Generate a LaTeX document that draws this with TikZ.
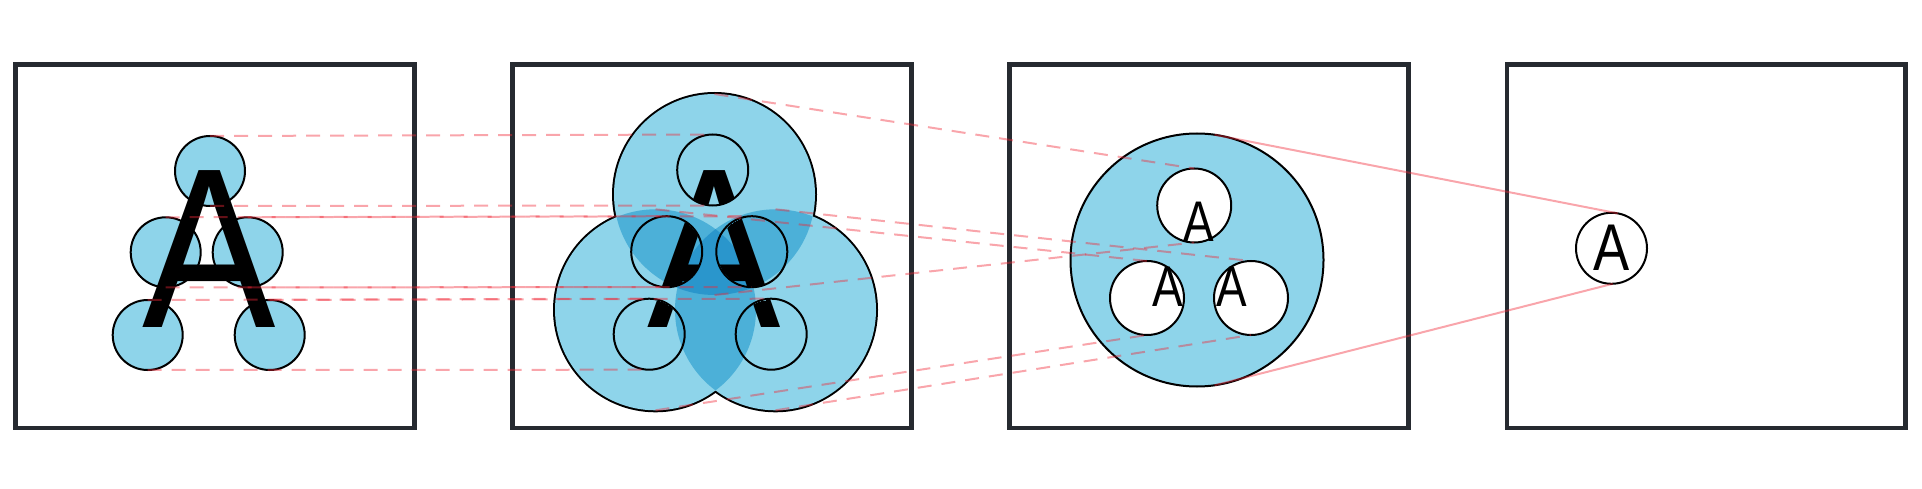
\documentclass[tikz,border=0pt]{standalone}
\usepackage{fontspec}
\setmainfont{Liberation Sans}
\definecolor{frm}{RGB}{38,42,48}
\definecolor{lb}{RGB}{142,212,234}
\definecolor{mb}{RGB}{76,176,216}
\definecolor{db}{RGB}{42,150,204}
\definecolor{rl}{RGB}{240,40,55}
\begin{document}
\begin{tikzpicture}[x=1pt,y=-1pt,
  frame/.style={draw=frm, line width=4.5pt},
  cnode/.style={circle, inner sep=0pt, outer sep=0pt, minimum size=#1, line width=2pt},
  bigA/.style={font=\fontsize{228.1pt}{228.1pt}\selectfont, anchor=base, inner sep=0pt, outer sep=0pt},
  smallA/.style={font=\fontsize{57.3pt}{57.3pt}\selectfont, anchor=base, inner sep=0pt, outer sep=0pt},
  midA/.style={font=\fontsize{66.1pt}{66.1pt}\selectfont, anchor=base, inner sep=0pt, outer sep=0pt},
  rdash/.style={draw=rl, draw opacity=0.42, line width=2pt, dash pattern=on 14pt off 10pt},
  rsolid/.style={draw=rl, draw opacity=0.42, line width=2pt}]
\useasboundingbox (0,0) rectangle (1922,489);
% frames
\draw[frame] (15.3,64.7) rectangle (414.7,428);
\draw[frame] (512.5,64.7) rectangle (911.7,428);
\draw[frame] (1009.7,64.7) rectangle (1408.7,428);
\draw[frame] (1507,64.7) rectangle (1905.3,428);
% panel 1
\node[cnode=70pt, fill=lb, draw] (aT) at (210,171) {};
\node[cnode=70pt, fill=lb, draw] (aML) at (165.7,252.3) {};
\node[cnode=70pt, fill=lb, draw] (aMR) at (247.7,252.3) {};
\node[cnode=70pt, fill=lb, draw] (aBL) at (147.7,335) {};
\node[cnode=70pt, fill=lb, draw] (aBR) at (269.7,335) {};
\node[bigA] (aA) at (209.7,327.3) {\scalebox{0.877}[1]{A}};
% panel 2 big circles
\node[cnode=201pt] (bT) at (714.5,194.5) {};
\node[cnode=201pt] (bBL) at (655.5,309.8) {};
\node[cnode=201pt] (bBR) at (775.5,309.8) {};
\draw[line width=4pt] (bT.center) circle[radius=100.5] (bBL.center) circle[radius=100.5] (bBR.center) circle[radius=100.5];
\fill[lb] (bT.center) circle[radius=100.5] (bBL.center) circle[radius=100.5] (bBR.center) circle[radius=100.5];
\begin{scope}
  \clip (bT.center) circle[radius=100.5];
  \fill[mb] (bBL.center) circle[radius=100.5] (bBR.center) circle[radius=100.5];
\end{scope}
\begin{scope}
  \clip (bBL.center) circle[radius=100.5];
  \fill[mb] (bBR.center) circle[radius=100.5];
\end{scope}
\begin{scope}
  \clip (bT.center) circle[radius=100.5];
  \clip (bBL.center) circle[radius=100.5];
  \fill[db] (bBR.center) circle[radius=100.5];
\end{scope}
% panel 2 small circles
\node[cnode=71pt, draw] (sT) at (712.7,170) {};
\node[cnode=71pt, draw] (sML) at (666.7,251.7) {};
\node[cnode=71pt, draw] (sMR) at (751.8,251.7) {};
\node[cnode=71pt, draw] (sBL) at (649.2,334.2) {};
\node[cnode=71pt, draw] (sBR) at (771.2,334.2) {};
\begin{scope}
  \clip (sT.center) circle[radius=34.5] (sML.center) circle[radius=34.5] (sMR.center) circle[radius=34.5] (sBL.center) circle[radius=34.5] (sBR.center) circle[radius=34.5];
  \node[bigA] (bA) at (714.7,327.3) {\scalebox{0.877}[1]{A}};
\end{scope}
% panel 3
\node[cnode=253pt, fill=lb, draw] (cB) at (1197,260) {};
\node[cnode=74pt, fill=white, draw] (cT) at (1194.2,205.5) {};
\node[cnode=74pt, fill=white, draw] (cBL) at (1147,298) {};
\node[cnode=74pt, fill=white, draw] (cBR) at (1251,298) {};
\node[smallA] (cTA) at (1199,241.5) {\scalebox{0.8}[1]{A}};
\node[smallA] (cBLA) at (1167.5,306.7) {\scalebox{0.8}[1]{A}};
\node[smallA] (cBRA) at (1232,306.7) {\scalebox{0.8}[1]{A}};
% panel 4
\node[cnode=71pt, fill=white, draw] (dC) at (1611.5,248.3) {};
\node[midA] (dA) at (1612,270.7) {\scalebox{0.82}[1]{A}};
% red connectors
\foreach \n in {T,ML,MR,BL,BR} {
  \draw[rdash] (a\n.north) -- (s\n.north);
}
\foreach \n in {T,ML,MR,BL} {
  \draw[rdash] (a\n.south) -- (s\n.south);
}
\draw[rdash] (bT.north) -- (cT.north);
\draw[rdash] (bT.south) -- (cT.south);
\draw[rdash] (bBL.north) -- (cBL.north);
\draw[rdash] (bBL.south) -- (cBL.south);
\draw[rdash] (bBR.north) -- (cBR.north);
\draw[rdash] (bBR.south) -- (cBR.south);
\draw[rsolid] (cB.82) -- (dC.80);
\draw[rsolid] (cB.-82) -- (dC.-88);
\end{tikzpicture}
\end{document}
